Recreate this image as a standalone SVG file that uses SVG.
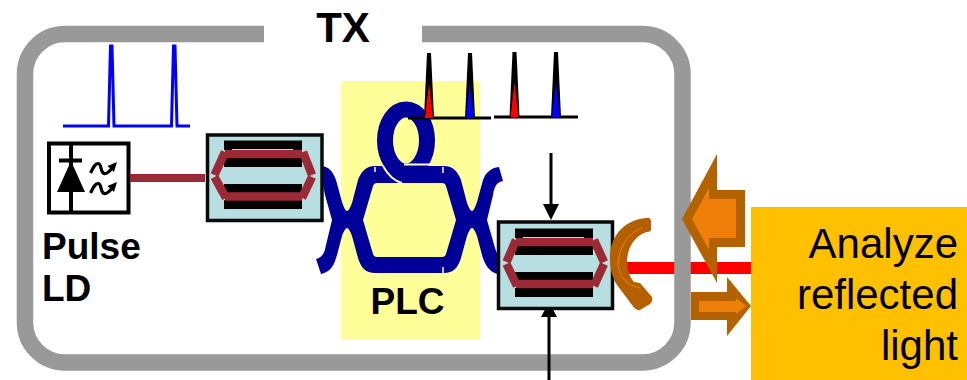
<svg xmlns="http://www.w3.org/2000/svg" width="967" height="380" viewBox="0 0 967 380">
<style>
text{font-family:"Liberation Sans",Arial,sans-serif;fill:#000}
.b{font-weight:700}
.box{fill:#B7DEE1;stroke:#0A0A0A;stroke-width:3.500}
.hex{fill:none;stroke:#9C2A36;stroke-width:8.500}
.ln{fill:none;stroke:#000;stroke-width:3}
.sq{fill:none;stroke:#000;stroke-width:3.200}
.sl{fill:none;stroke:#fff;stroke-width:1.500}
</style>
<defs>
<g id="bars"><rect x="0" y="0" width="78" height="9.500"/><rect x="0" y="17.500" width="78" height="9"/><rect x="0" y="43.500" width="78" height="9"/><rect x="0" y="59.500" width="78" height="9"/></g>
<g id="wave"><path class="sq" d="M90.500,173C93,168 95,163.500 98,163.500C102,163.500 100,172 104,173.500C107,174.500 110,171 113,167"/><polygon points="117,162 107.500,166 114,172"/></g>
</defs>
<rect id="plc-bg" x="341" y="81" width="139" height="259" fill="#FFFF99"/>
<g id="beam"><rect x="627" y="262" width="124" height="12" fill="#FF0000"/></g>
<g id="frame"><path d="M264,34H65A40,40 0 0 0 25,74V322.500A40,40 0 0 0 65,362.500H642.500A40,40 0 0 0 682.500,322.500V74A40,40 0 0 0 642.500,34H422" fill="none" stroke="#999999" stroke-width="16.500"/></g>
<g id="tx-label"><text class="b" x="343" y="42" font-size="42" text-anchor="middle">TX</text></g>
<g id="input-pulse"><path d="M63,126H108.500L110.500,46H112L114,126H171.500L173.500,46H175L177,126H190" fill="none" stroke="#0000FF" stroke-width="3"/></g>
<g id="pulse-ld">
<rect x="49" y="143.500" width="79.500" height="69" fill="#fff" stroke="#000" stroke-width="4"/>
<rect x="69" y="143" width="4" height="70"/>
<rect x="59" y="158.500" width="23" height="4"/>
<polygon points="71,161 85,192 57,192"/>
<use href="#wave"/><use href="#wave" y="20"/>
<text class="b" x="42" y="259" font-size="37">Pulse</text>
<text class="b" x="42" y="301" font-size="37">LD</text>
</g>
<g id="connectors">
<rect x="130" y="174" width="75" height="8" fill="#9C2A36"/>
<path class="ln" d="M551,153V206"/><polygon points="543,204 559,204 551,220"/>
<path class="ln" d="M549,380V315"/><polygon points="541,317 557,317 549,302"/>
</g>
<g id="plc">
<ellipse cx="406" cy="140.500" rx="21" ry="31" fill="none" stroke="#000099" stroke-width="16"/>
<path fill="#000099" fill-rule="evenodd" d="M320,166C329,166 333,172 336,180L342,202Q345,211 347,211Q349,211 352,203L358,180C361,172 366,166 375,166H444C453,166 458,172 461,180L467,203Q470,211 472,211Q474,211 477,202L483,180C486,172 491,168 499,167L503,181C495,182 494,190 493,195L487,220L495,248L505,275L498,274C488,272 484,262 482,255L477,236Q474,228 472,228Q470,228 467,236L461,258C458,268 453,273 444,273H375C366,273 361,268 358,258L352,236Q349,228 347,228Q345,228 342,236L337,255C334,265 331,272 321,274L316,259C324,257 325,250 326,245L332,220L325,195L320,170ZM363,220L373,186Q374,183 377,183H442Q445,183 446,186L456,220L446,254Q445,257 442,257H377Q374,257 373,254Z"/>
<path d="M383,166C388,175 394,181 402,183" fill="none" stroke="#fff" stroke-width="2"/>
<path d="M404,164.500H430" fill="none" stroke="#fff" stroke-width="2"/>
<path class="sl" d="M375,167V172M443,167V173M443,267V273"/>
<text class="b" x="407.500" y="314" font-size="37" text-anchor="middle">PLC</text>
</g>
<g id="mod-1">
<rect class="box" x="207.500" y="135" width="114.500" height="85.500"/>
<use href="#bars" x="224" y="140.500"/>
<path class="sl" d="M232,149.700H293"/>
<path class="hex" d="M225,154H302M225,152L214.500,175M303,152L312,175M214.500,177L226,198M312,177L302,198M225,196.500H302"/>
</g>
<g id="mod-2">
<rect class="box" x="498.500" y="222" width="114" height="86.500"/>
<use href="#bars" x="515" y="228.500"/>
<path class="sl" d="M523,237.700H584"/>
<path class="hex" d="M516,242H593M516,240L506.500,262M594,240L604,262M506.500,264L517,286M604,264L594,286M516,284H593"/>
</g>
<g id="spectra">
<path d="M408,118H491M494,117H578" stroke="#000" stroke-width="3" fill="none"/>
<polygon points="424,118 427,53 431,53 434,118"/><polygon points="425,118 429,83 433,118" fill="#FF0000"/>
<polygon points="465,118 468,53 472,53 475,118"/><polygon points="466,118 470,83 474,118" fill="#0000FF"/>
<polygon points="509.500,117 512.500,52 516.500,52 519.500,117"/><polygon points="510.500,117 514.500,82 518.500,117" fill="#FF0000"/>
<polygon points="551,117 554,52 558,52 561,117"/><polygon points="552,117 556,82 560,117" fill="#0000FF"/>
</g>
<g id="circulator">
<path fill="#B46000" d="M646,218Q651,217 651,222V229Q651,232 647,232C635,235 627,248 627,262C627,270 630,278 634,282L640,283L652,297Q653,302 650,304L640,310Q636,311 632,305L617,285C612,277 610,268 610,258C610,235 625,220 646,218Z"/>
<path d="M643,228C630,231 620,245 618,262C618,272 622,278 627,282C632,286 636,287 640,288" fill="none" stroke="#F07F09" stroke-width="1"/>
</g>
<g id="arrow-in">
<polygon points="682,219 717,154 717,190 745,190 745,247 717,247 717,283" fill="#B36200"/>
<polygon points="692,219 709,188 709,199 736,199 736,238 709,238 709,250" fill="#F07F09"/>
</g>
<g id="arrow-out">
<polygon points="691,292 727,292 727,277 751,306 727,336 727,320 691,320" fill="#B36200"/>
<polygon points="699,301 736,301 736,298 746,306 736,314 736,312 699,312" fill="#F07F09"/>
</g>
<g id="analyze">
<rect x="751" y="207" width="216" height="173" fill="#FFC000"/>
<text x="958" y="258" font-size="42" text-anchor="end">Analyze</text>
<text x="958" y="309" font-size="42" text-anchor="end">reflected</text>
<text x="958" y="360" font-size="42" text-anchor="end">light</text>
</g>
</svg>
